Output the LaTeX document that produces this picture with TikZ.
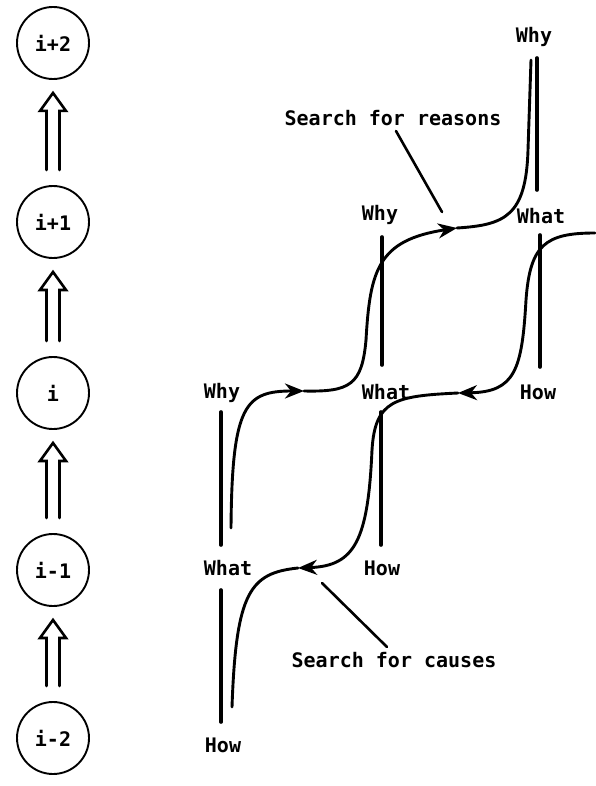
\documentclass[tikz,border=0pt]{standalone}
\usepackage{fontspec}
\usetikzlibrary{arrows.meta,calc}
\newfontfamily\labfont{DejaVu Sans Mono}
\tikzset{
  lab/.style={font=\labfont\bfseries\fontsize{20}{22}\selectfont, inner sep=0pt},
  circ/.style={circle, draw, line width=1.9pt, minimum size=72pt, inner sep=0pt, lab},
  dblarrow/.style={line width=2.6pt, line join=miter, line cap=round},
  vline/.style={line width=3.6pt, line cap=round},
  chain/.style={line width=2.9pt, line cap=round},
  chainarrow/.style={chain, -{Stealth[length=19pt, width=15pt, inset=6pt]}},
  pointer/.style={line width=2.6pt, line cap=round}
}
\newcommand{\upimplies}[2]{%
  \draw[dblarrow] ($(#1.north)+(-6.5,-15)$) -- ($(#2.south)+(-6.5,31)$)
    -- ($(#2.south)+(-13,31)$) -- ($(#2.south)+(0,13)$)
    -- ($(#2.south)+(13,31)$) -- ($(#2.south)+(6.5,31)$)
    -- ($(#1.north)+(6.5,-15)$);}
\begin{document}
\begin{tikzpicture}[x=1pt, y=-1pt]
\useasboundingbox (0,0) rectangle (595,786);
% level circles
\node[circ] (c2)  at (53,43)  {i+2};
\node[circ] (c1)  at (53,222) {i+1};
\node[circ] (c0)  at (53,393) {i};
\node[circ] (cm1) at (53,570) {i-1};
\node[circ] (cm2) at (53,738) {i-2};
\upimplies{c1}{c2}
\upimplies{c0}{c1}
\upimplies{cm1}{c0}
\upimplies{cm2}{cm1}
% labels
\node[lab] (whyA)  at (222,393) {Why};
\node[lab] (whatA) at (228,568) {What};
\node[lab] (howA)  at (223,745) {How};
\node[lab] (whyB)  at (380,215) {Why};
\node[lab] (whatB) at (386,392) {What};
\node[lab] (howB)  at (382,568) {How};
\node[lab] (whyC)  at (534,37)  {Why};
\node[lab] (whatC) at (541,216) {What};
\node[lab] (howC)  at (538,392) {How};
\node[lab] (reasons) at (393,118) {Search for reasons};
\node[lab] (causes)  at (394,660) {Search for causes};
% vertical axes
\draw[vline] ([xshift=-1pt,yshift=-19pt]whyA.center) -- ([xshift=-7pt,yshift=23pt]whatA.center);
\draw[vline] ([xshift=-7pt,yshift=-22pt]whatA.center) -- ([xshift=-2pt,yshift=23pt]howA.center);
\draw[vline] ([xshift=2pt,yshift=-22pt]whyB.center) -- ([xshift=-4pt,yshift=27pt]whatB.center);
\draw[vline] ([xshift=-5pt,yshift=-20pt]whatB.center) -- ([xshift=-1pt,yshift=23pt]howB.center);
\draw[vline] ([xshift=3pt,yshift=-21pt]whyC.center) -- ([xshift=-4pt,yshift=26pt]whatC.center);
\draw[vline] ([xshift=-1pt,yshift=-19pt]whatC.center) -- ([xshift=2pt,yshift=25pt]howC.center);
% upward chain (search for reasons)
\coordinate (u0) at (231,528);
\coordinate (u1) at (304,391);
\coordinate (u2) at (366,340);
\coordinate (u3) at (457,228);
\coordinate (u4) at (531,60);
\draw[chainarrow] (u0) .. controls (232,405) and (245,391) .. (u1);
\draw[chain] (u1) .. controls (350,392) and (362,385) .. (u2);
\draw[chainarrow] (u2) .. controls (370,270) and (378,240) .. (u3);
\draw[chain] (u3) .. controls (505,225) and (526,216) .. (528,150) -- (u4);
% downward chain (search for causes)
\coordinate (d0) at (595,233);
\coordinate (d1) at (526,300);
\coordinate (d2) at (458,393);
\coordinate (d3) at (372,450);
\coordinate (d4) at (298,568);
\coordinate (d5) at (232,707);
\draw[chainarrow] (d0) .. controls (545,233) and (530,245) .. (d1)
  .. controls (522,370) and (515,392) .. (d2);
\draw[chain] (d2) .. controls (395,396) and (375,400) .. (d3);
\draw[chainarrow] (d3) .. controls (368,540) and (355,566) .. (d4);
\draw[chain] (d4) .. controls (250,573) and (236,592) .. (d5);
% pointers
\draw[pointer] ([xshift=3pt,yshift=-13pt]reasons.center) -- (442,212);
\draw[pointer] ([xshift=-7pt,yshift=13pt]causes.center) -- (322,583);
\end{tikzpicture}
\end{document}
